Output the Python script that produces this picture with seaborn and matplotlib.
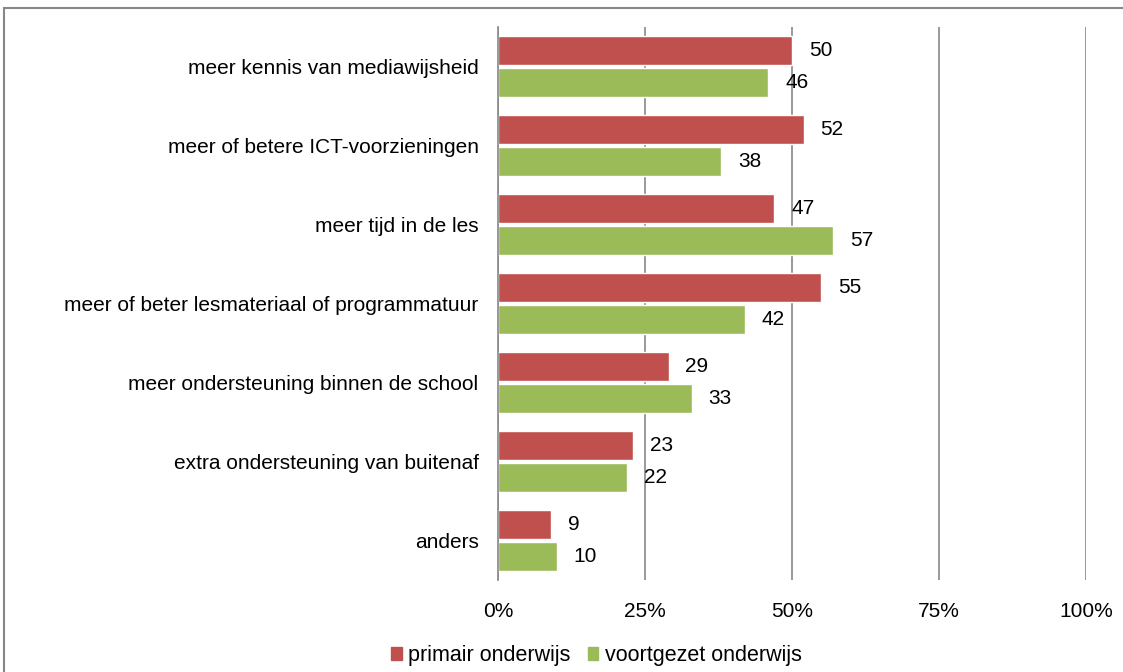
import pandas as pd
import numpy as np
import matplotlib
matplotlib.use('Agg')
import matplotlib.pyplot as plt
import seaborn as sns

categories = ['meer kennis van mediawijsheid',
              'meer of betere ICT-voorzieningen',
              'meer tijd in de les',
              'meer of beter lesmateriaal of programmatuur',
              'meer ondersteuning binnen de school',
              'extra ondersteuning van buitenaf',
              'anders']
primair = [50, 52, 47, 55, 29, 23, 9]
voortgezet = [46, 38, 57, 42, 33, 22, 10]
series = ['primair onderwijs', 'voortgezet onderwijs']
colors = ['#C0504D', '#9BBB59']

df = pd.DataFrame({
    'categorie': categories * 2,
    'groep': [series[0]] * len(categories) + [series[1]] * len(categories),
    'waarde': primair + voortgezet,
})

sns.set_style('white')
plt.rcParams['font.family'] = ['Liberation Sans', 'DejaVu Sans']
plt.rcParams['text.color'] = 'black'

fig, ax = plt.subplots(figsize=(11.23, 6.72), dpi=100)
fig.subplots_adjust(left=0.4435, right=0.967, top=0.96, bottom=0.137)

sns.barplot(data=df, y='categorie', x='waarde', hue='groep', orient='h',
            palette=colors, width=0.81, gap=0.09, saturation=1, ax=ax,
            legend=False)

for cont in ax.containers:
    ax.bar_label(cont, fmt='%d', padding=12, fontsize=15, color='black')

ax.set_xlim(0, 100)
ax.set_xticks([0, 25, 50, 75, 100])
ax.set_xticklabels(['0%', '25%', '50%', '75%', '100%'], fontsize=15)
ax.tick_params(axis='y', labelsize=15, length=0, pad=14, labelcolor='black')
ax.tick_params(axis='x', length=4, color='#888888', pad=12, labelcolor='black')
ax.xaxis.grid(True, color='#888888', linewidth=1.2)
ax.set_axisbelow(True)
ax.set_xlabel('')
ax.set_ylabel('')
for s in ['top', 'right', 'bottom']:
    ax.spines[s].set_visible(False)
ax.spines['left'].set_color('#888888')
ax.spines['left'].set_linewidth(1.2)

handles = [plt.Rectangle((0, 0), 1, 1, color=c) for c in colors]
fig.legend(handles, series, loc='lower center', bbox_to_anchor=(0.531, -0.02),
           ncol=2, frameon=False, fontsize=15.5, handlelength=0.5,
           handleheight=0.5, handletextpad=0.3, columnspacing=0.8,
           labelcolor='black')

border = plt.Rectangle((0.004, -0.02), 1.1, 1.008, transform=fig.transFigure,
                       fill=False, edgecolor='#888888', linewidth=1.5)
fig.add_artist(border)

fig.savefig('out.png', dpi=100)
